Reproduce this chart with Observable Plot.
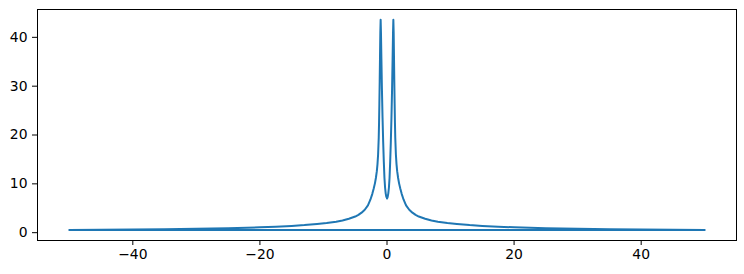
<!DOCTYPE html>
<html>
<head>
<meta charset="utf-8">
<script src="https://cdn.jsdelivr.net/npm/d3@7"></script>
<script src="https://cdn.jsdelivr.net/npm/@observablehq/plot@0.6"></script>
<style>
  html, body { margin: 0; padding: 0; background: #fff; }
  svg { display: block; }
</style>
</head>
<body>
<div id="chart"></div>
<script>
// Frequency samples in the order they were plotted (0 → 50, then -50 → 0)
const freq = [
  0, 0.1, 0.2, 0.3, 0.4, 0.5, 0.6, 0.7, 0.8, 0.88, 0.95, 1.0,
  1.05, 1.1, 1.15, 1.2, 1.25, 1.3, 1.4, 1.5, 1.6, 1.75, 1.9, 2.1, 2.3, 2.6, 3.0, 3.5, 4.0, 4.5,
  5.0, 6.0, 7.0, 8.0, 9.5, 11, 13, 15, 17.5, 20, 25, 30, 35, 40, 45, 50,
  -50, -45, -40, -35, -30, -25, -20, -17.5, -15, -13, -11, -9.5, -8.0, -7.0, -6.0, -5.0,
  -4.5, -4.0, -3.5, -3.0, -2.6, -2.3, -2.1, -1.9, -1.75, -1.6, -1.5, -1.4, -1.3, -1.25, -1.2,
  -1.15, -1.1, -1.05, -1.0, -0.95, -0.88, -0.8, -0.7, -0.6, -0.5, -0.4, -0.3, -0.2, -0.1
];
const amp = [
  7.0, 7.3, 8.0, 9.2, 11.2, 14.5, 18.5, 23.5, 29.5, 35.5, 41, 43.6,
  41, 36, 31, 26.5, 22.5, 19.5, 16, 14, 12.6, 11.2, 10.1, 9.0, 8.0, 6.8, 5.6, 4.7, 4.1, 3.65,
  3.3, 2.85, 2.5, 2.25, 1.97, 1.78, 1.55, 1.38, 1.22, 1.1, 0.92, 0.8, 0.7, 0.64, 0.59, 0.55,
  0.55, 0.59, 0.64, 0.7, 0.8, 0.92, 1.1, 1.22, 1.38, 1.55, 1.78, 1.97, 2.25, 2.5, 2.85, 3.3,
  3.65, 4.1, 4.7, 5.6, 6.8, 8.0, 9.0, 10.1, 11.2, 12.6, 14, 16, 19.5, 22.5, 26.5,
  31, 36, 41, 43.6, 41, 35.5, 29.5, 23.5, 18.5, 14.5, 11.2, 9.2, 8.0, 7.3
];
const xTicks = [-40, -20, 0, 20, 40];
const yTicks = [0, 10, 20, 30, 40];

const data = freq.map((f, i) => ({f, a: amp[i]}));

const chart = Plot.plot({
  width: 744,
  height: 274,
  marginLeft: 37,
  marginRight: 8,
  marginTop: 9,
  marginBottom: 34,
  style: {fontFamily: "DejaVu Sans", fontSize: "13.9px", color: "black", background: "white"},
  x: {domain: [-55, 55], ticks: xTicks, tickSize: 5, tickPadding: 4, label: null},
  y: {domain: [-1.6, 45.7], ticks: yTicks, tickSize: 5, tickPadding: 5, label: null},
  marks: [
    Plot.line(data, {x: "f", y: "a", stroke: "#1f77b4", strokeWidth: 2, curve: "linear", strokeLinejoin: "round"}),
    Plot.frame({stroke: "black", strokeWidth: 1})
  ]
});
document.getElementById("chart").appendChild(chart);
</script>
</body>
</html>
